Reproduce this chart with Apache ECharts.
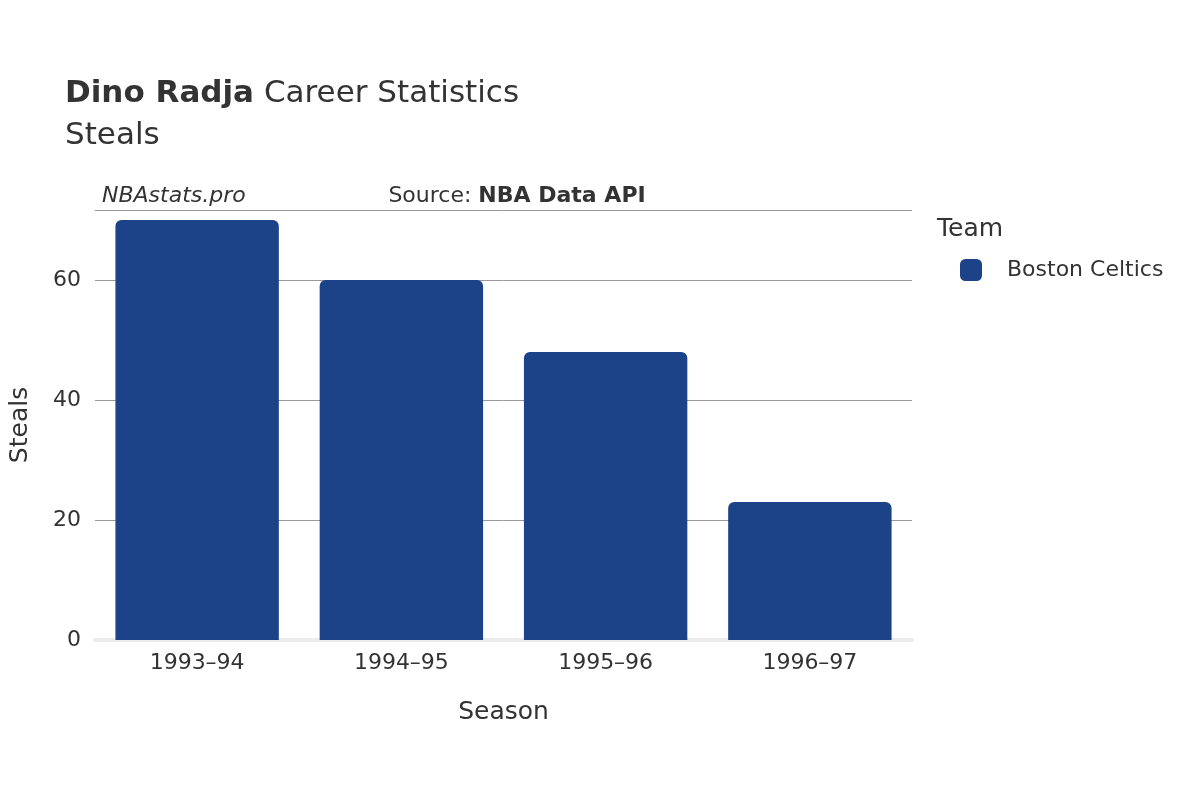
<!DOCTYPE html>
<html><head><meta charset="utf-8">
<script src="https://cdn.jsdelivr.net/npm/echarts@6/dist/echarts.min.js"></script>
<style>html,body{margin:0;padding:0;background:#fff}#c{width:1200px;height:800px}</style>
</head><body><div id="c"></div>
<script>
const seasons = ["1993–94","1994–95","1995–96","1996–97"];
const steals = [70, 60, 48, 23];
const yTicks = [0, 20, 40, 60];
const team = "Boston Celtics";
const F = "'DejaVu Sans', 'Noto Sans', sans-serif";
const chart = echarts.init(document.getElementById('c'));
chart.setOption({
  animation: false,
  textStyle: {fontFamily: F},
  title: [
    {text: "{b|Dino Radja} Career Statistics\nSteals", left: 60, top: 68,
     textStyle: {fontSize: 31, fontWeight: 'normal', color: '#333', lineHeight: 42, fontFamily: F,
       rich: {b: {fontSize: 31, fontWeight: 'bold', color: '#333', fontFamily: F}}}},
    {text: "NBAstats.pro", left: 97, top: 180, textStyle: {fontSize: 22, fontStyle: 'italic', fontWeight: 'normal', color: '#333', fontFamily: F}},
    {text: "Source: {b|NBA Data API}", right: 292, top: 180, textAlign: 'right',
     textStyle: {fontSize: 22, fontWeight: 'normal', color: '#333', fontFamily: F,
       rich: {b: {fontSize: 22, fontWeight: 'bold', color: '#333', fontFamily: F}}}},
    {text: "Team", left: 932, top: 212, textStyle: {fontSize: 25, fontWeight: 'normal', color: '#333', fontFamily: F}}
  ],
  legend: {left: 955, top: 254, itemWidth: 22, itemHeight: 22, itemGap: 12,
    icon: 'roundRect', data: [team], textStyle: {fontSize: 22, color: '#333', padding: [0,0,0,20]}},
  grid: {left: 95, right: 288, top: 210, bottom: 160, containLabel: false},
  xAxis: {type: 'category', data: seasons, name: 'Season', nameLocation: 'middle', nameGap: 60,
    nameTextStyle: {fontSize: 25, color: '#333'},
    axisLine: {show: true, lineStyle: {color: '#ebebeb', width: 4}}, axisTick: {show: false},
    axisLabel: {fontSize: 22, color: '#333', margin: 12}},
  yAxis: {type: 'value', min: 0, max: 71.67, interval: 20, name: 'Steals', nameLocation: 'middle', nameGap: 62,
    nameTextStyle: {fontSize: 25, color: '#333'},
    axisLabel: {fontSize: 22, color: '#333', showMaxLabel: false, margin: 14},
    splitLine: {lineStyle: {color: '#999', width: 1}}, axisLine: {show: false}},
  series: [{name: team, type: 'bar', data: steals, barCategoryGap: '20%',
    itemStyle: {color: '#1c4288', borderRadius: [6,6,0,0]}, z: 3}]
});
</script></body></html>
